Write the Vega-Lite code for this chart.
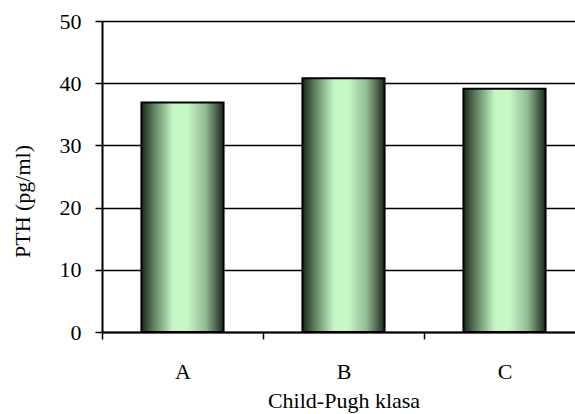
{
  "$schema": "https://vega.github.io/schema/vega-lite/v6.json",
  "autosize": "none",
  "padding": {"left": 102, "top": 21, "right": 0, "bottom": 82},
  "width": 483,
  "height": 311,
  "background": "white",
  "data": {
    "values": [
      {"klasa": "A", "pth": 36.9},
      {"klasa": "B", "pth": 40.8},
      {"klasa": "C", "pth": 39.1}
    ]
  },
  "config": {
    "view": {"stroke": null},
    "font": "Liberation Serif",
    "axis": {
      "labelFont": "Liberation Serif",
      "titleFont": "Liberation Serif",
      "labelFontSize": 22,
      "titleFontSize": 22,
      "labelColor": "black",
      "titleColor": "black",
      "titleFontWeight": "normal",
      "domainColor": "black",
      "domainWidth": 2,
      "tickColor": "black",
      "tickWidth": 1.5,
      "tickSize": 7
    }
  },
  "mark": {
    "type": "bar",
    "width": {"band": 0.51},
    "stroke": "black",
    "strokeWidth": 2,
    "color": {
      "gradient": "linear",
      "x1": 0, "x2": 1, "y1": 0, "y2": 0,
      "stops": [
        {"offset": 0, "color": "#1c281c"},
        {"offset": 0.15, "color": "#5f7f5f"},
        {"offset": 0.38, "color": "#c4f5c4"},
        {"offset": 0.55, "color": "#c8f8c8"},
        {"offset": 0.78, "color": "#93bb93"},
        {"offset": 1, "color": "#1c281c"}
      ]
    }
  },
  "encoding": {
    "x": {
      "field": "klasa",
      "type": "nominal",
      "scale": {"paddingInner": 0, "paddingOuter": 0},
      "axis": {
        "title": "Child-Pugh klasa",
        "labelAngle": 0,
        "labelPadding": 22,
        "tickBand": "extent",
        "titleY": 75,
        "titleBaseline": "alphabetic",
        "grid": false
      }
    },
    "y": {
      "field": "pth",
      "type": "quantitative",
      "scale": {"domain": [0, 50], "nice": false},
      "axis": {
        "title": "PTH (pg/ml)",
        "values": [0, 10, 20, 30, 40, 50],
        "labelPadding": 14,
        "grid": true,
        "gridColor": "black",
        "gridWidth": 1.5,
        "gridOpacity": 1,
        "titleX": -80,
        "titleY": 180,
        "titleAngle": -90,
        "titleAlign": "center",
        "titleBaseline": "middle"
      }
    }
  }
}
